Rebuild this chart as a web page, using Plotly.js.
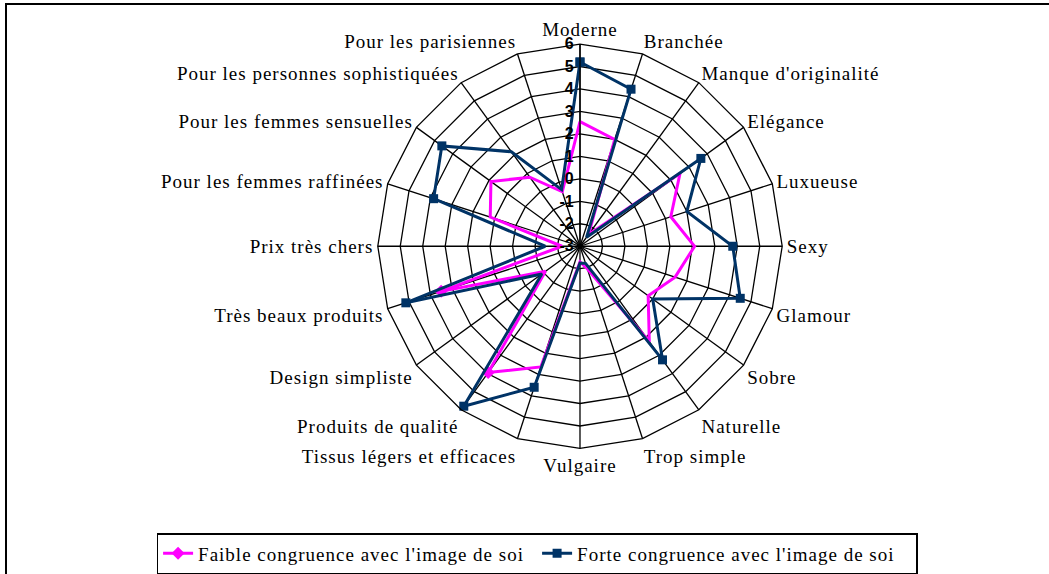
<!DOCTYPE html>
<html>
<head>
<meta charset="utf-8">
<script src="https://cdn.plot.ly/plotly-3.0.1.min.js"></script>
<style>
  html, body { margin: 0; padding: 0; background: #fff; }
  #frame { position: absolute; left: 5px; top: 3px; width: 1100px; height: 600px; border-left: 2px solid #000; border-top: 2px solid #000; pointer-events: none; }
  #chart { position: absolute; left: 0; top: 0; width: 1049px; height: 574px; }
  #chart .angularaxistick text, #chart .legendtext { letter-spacing: 1px; }
</style>
</head>
<body>
<div id="chart"></div>
<div id="frame"></div>
<script>
const categories = [
  "Moderne", "Branchée", "Manque d'originalité", "Elégance", "Luxueuse", "Sexy",
  "Glamour", "Sobre", "Naturelle", "Trop simple", "Vulgaire",
  "Tissus légers et efficaces", "Produits de qualité", "Design simpliste",
  "Très beaux produits", "Prix très chers", "Pour les femmes raffinées",
  "Pour les femmes sensuelles", "Pour les personnes sophistiquées", "Pour les parisiennes"
];
const faible = [2.55, 2.0, -2.35, 2.5, 1.25, 2.1, 1.45, 0.75, 2.25, -1.95, -2.3,
  2.65, 3.95, -1.1, 3.5, -2.2, 1.2, 1.9, 0.8, -0.45];
const forte = [5.2, 4.35, -2.5, 3.65, 2.0, 3.8, 4.5, 1.0, 3.25, -2.2, -2.25,
  3.6, 5.8, -0.9, 5.15, -1.45, 3.85, 4.6, 2.2, -0.35];
const seriesNames = ["Faible congruence avec l'image de soi", "Forte congruence avec l'image de soi"];
const tickVals = [-3, -2, -1, 0, 1, 2, 3, 4, 5, 6];

function closeLoop(a) { return a.concat([a[0]]); }

const traces = [
  {
    type: 'scatterpolar', mode: 'lines+markers', name: seriesNames[0],
    r: closeLoop(faible), theta: closeLoop(categories),
    line: { color: '#FF00FF', width: 3 },
    marker: { symbol: 'diamond', size: 10, color: '#FF00FF' }
  },
  {
    type: 'scatterpolar', mode: 'lines+markers', name: seriesNames[1],
    r: closeLoop(forte), theta: closeLoop(categories),
    line: { color: '#003366', width: 3 },
    marker: { symbol: 'square', size: 9, color: '#003366' }
  }
];

const layout = {
  width: 1049, height: 574,
  margin: { l: 0, r: 0, t: 0, b: 0 },
  paper_bgcolor: '#fff',
  showlegend: true,
  font: { family: 'Liberation Serif, Times New Roman, serif', size: 19, color: '#000' },
  polar: {
    domain: { x: [0.3594, 0.7464], y: [0.216, 0.923] },
    bgcolor: 'rgba(0,0,0,0)',
    gridshape: 'linear',
    angularaxis: {
      direction: 'clockwise', rotation: 90,
      categoryorder: 'array', categoryarray: categories,
      linecolor: '#000', linewidth: 1.3, gridcolor: '#000', gridwidth: 1.3,
      showline: true, ticks: '',
      tickfont: { family: 'Liberation Serif, Times New Roman, serif', size: 19, color: '#000' }
    },
    radialaxis: {
      range: [-3, 6], tickvals: tickVals, ticktext: tickVals.map(String),
      angle: 90, side: 'counterclockwise',
      showline: true, linecolor: '#000', linewidth: 1.3,
      gridcolor: '#000', gridwidth: 1.3, ticks: '',
      tickangle: 90,
      tickfont: { family: 'Liberation Sans, Arial, sans-serif', size: 16, color: '#000', weight: 'bold' }
    }
  },
  legend: {
    orientation: 'h', x: 0.512, xanchor: 'center', y: 0.068, yanchor: 'top',
    bordercolor: '#000', borderwidth: 1.5, bgcolor: '#fff',
    entrywidth: 334, entrywidthmode: 'pixels',
    font: { family: 'Liberation Serif, Times New Roman, serif', size: 19, color: '#000' }
  }
};

Plotly.newPlot('chart', traces, layout, { displayModeBar: false, staticPlot: true });
</script>
</body>
</html>
